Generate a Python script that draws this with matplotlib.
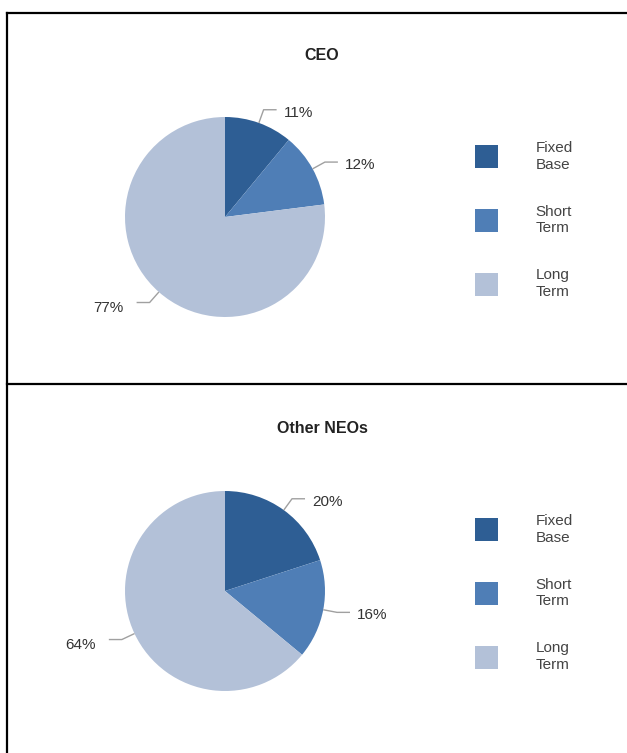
import numpy as np
import matplotlib
matplotlib.use("Agg")
import matplotlib.pyplot as plt
from matplotlib.lines import Line2D

plt.rcParams['font.family'] = ['Liberation Sans', 'DejaVu Sans']

categories = ["Fixed\nBase", "Short\nTerm", "Long\nTerm"]
titles = ["CEO", "Other NEOs"]
ceo_values = [11, 12, 77]
neo_values = [20, 16, 64]
colors = ["#2E5E94", "#4F7EB6", "#B3C1D8"]

W, H = 627, 753
fig = plt.figure(figsize=(W / 100, H / 100), dpi=100)
fig.patch.set_facecolor("white")

def fx(px):
    return px / W

def fy(py):
    return 1 - py / H

# frame lines
lw = 1.6
fig.add_artist(Line2D([fx(7), fx(7)], [fy(13), fy(H)], color="black", lw=lw))
fig.add_artist(Line2D([fx(7), fx(W)], [fy(13), fy(13)], color="black", lw=lw))
fig.add_artist(Line2D([fx(7), fx(W)], [fy(384), fy(384)], color="black", lw=lw))

panels = [
    (titles[0], ceo_values, 217, 55, 3),
    (titles[1], neo_values, 591, 428, 2),
]

for title, values, cy, ty, loff in panels:
    cx = 225
    half = 150
    ax = fig.add_axes([fx(cx - half), fy(cy + half), 2 * half / W, 2 * half / H])
    wedges, _ = ax.pie(values, colors=colors, startangle=90, counterclock=False,
                       radius=1.0, wedgeprops=dict(linewidth=0))
    ax.set_xlim(-1.5, 1.5)
    ax.set_ylim(-1.5, 1.5)
    ax.set_aspect("equal")
    ax.axis("off")

    total = sum(values)
    for w, v in zip(wedges, values):
        ang = np.deg2rad((w.theta1 + w.theta2) / 2)
        x0, y0 = np.cos(ang), np.sin(ang)
        x1, y1 = 1.14 * x0, 1.14 * y0
        s = 1 if x0 >= 0 else -1
        x2 = x1 + s * 0.13
        ax.plot([x0, x1, x2], [y0, y1, y1], color="#A0A0A0", lw=1.0,
                solid_capstyle="butt", clip_on=False)
        gap = 0.07 if s > 0 else 0.13
        dy = 0.03 if s > 0 else 0.05
        ax.text(x2 + s * gap, y1 - dy, f"{round(100 * v / total)}%",
                ha="left" if s > 0 else "right", va="center",
                fontsize=11, color="#333333")

    fig.text(fx(322), fy(ty), title, ha="center", va="center",
             fontsize=11.5, fontweight="bold", color="#222222")

    leg = fig.legend(wedges, categories, loc="center left",
                     bbox_to_anchor=(fx(475), fy(cy + loff)),
                     frameon=False, fontsize=11, handlelength=1.5, handleheight=1.94,
                     handletextpad=2.48, labelspacing=2.16, labelcolor="#444444",
                     borderpad=0, borderaxespad=0)
    for t in leg.get_texts():
        t.set_linespacing(1.25)

fig.savefig("out.png", dpi=100, facecolor="white")
